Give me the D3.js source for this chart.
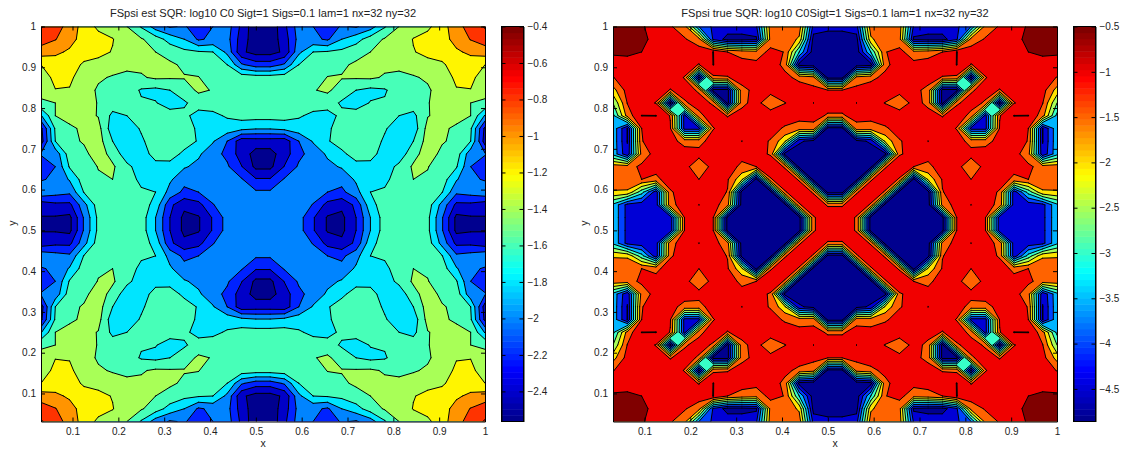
<!DOCTYPE html>
<html>
<head>
<meta charset="utf-8">
<script src="https://d3js.org/d3.v7.min.js"></script>
<style>
    html, body { margin: 0; padding: 0; background: #fff; }
    svg { display: block; }
    text { font-family: "Liberation Sans", Arial, sans-serif; fill: #222; }
    .tick text { font-size: 10px; }
    .tick line, .domain { stroke: #000; }
</style>
</head>
<body>
<svg id="chart" width="1122" height="449"></svg>
<script>
// Both fields are mirror symmetric, so only the top-left quarter is kept (16 x 16, row 0 = y 1, col 0 = x 1/32)
const estQuarter = [
    [-0.58,-0.72,-0.87,-1.09,-1.24,-1.32,-1.40,-1.62,-1.90,-2.02,-1.98,-2.10,-2.00,-1.90,-2.25,-2.55],
    [-0.70,-0.79,-0.93,-1.08,-1.13,-1.19,-1.33,-1.38,-1.50,-1.68,-1.80,-2.03,-1.95,-1.93,-2.30,-2.52],
    [-0.90,-0.96,-1.03,-1.14,-1.15,-1.21,-1.28,-1.35,-1.40,-1.47,-1.55,-1.58,-1.60,-1.85,-2.36,-2.48],
    [-1.20,-1.10,-1.14,-1.22,-1.26,-1.30,-1.36,-1.36,-1.35,-1.37,-1.43,-1.46,-1.52,-1.60,-1.97,-2.10],
    [-1.28,-1.16,-1.17,-1.28,-1.37,-1.42,-1.44,-1.42,-1.37,-1.38,-1.39,-1.395,-1.48,-1.52,-1.48,-1.50],
    [-1.36,-1.205,-1.21,-1.30,-1.43,-1.48,-1.50,-1.62,-1.65,-1.60,-1.48,-1.37,-1.41,-1.46,-1.48,-1.48],
    [-1.42,-1.40,-1.28,-1.32,-1.41,-1.50,-1.53,-1.58,-1.59,-1.68,-1.63,-1.50,-1.52,-1.50,-1.50,-1.48],
    [-1.82,-1.40,-1.32,-1.34,-1.41,-1.65,-1.60,-1.50,-1.48,-1.52,-1.55,-1.68,-1.64,-1.58,-1.52,-1.52],
    [-2.25,-1.57,-1.44,-1.36,-1.33,-1.72,-1.70,-1.58,-1.50,-1.47,-1.52,-1.63,-1.67,-1.68,-1.74,-1.78],
    [-2.30,-1.60,-1.45,-1.38,-1.31,-1.60,-1.72,-1.63,-1.50,-1.48,-1.50,-1.62,-1.78,-2.00,-2.32,-2.30],
    [-1.98,-1.93,-1.49,-1.45,-1.30,-1.47,-1.72,-1.70,-1.52,-1.50,-1.65,-1.77,-1.92,-2.05,-2.30,-2.47],
    [-2.15,-2.00,-1.58,-1.52,-1.39,-1.37,-1.55,-1.70,-1.67,-1.68,-1.78,-1.85,-1.93,-1.97,-2.19,-2.45],
    [-2.02,-1.96,-1.78,-1.50,-1.43,-1.40,-1.50,-1.65,-1.72,-1.77,-1.93,-1.93,-1.90,-1.92,-1.98,-2.18],
    [-1.85,-1.92,-1.96,-1.59,-1.47,-1.45,-1.50,-1.57,-1.60,-1.87,-2.05,-2.00,-1.92,-1.90,-1.93,-1.97],
    [-2.32,-2.25,-2.25,-1.87,-1.50,-1.45,-1.50,-1.50,-1.67,-2.15,-2.35,-2.27,-2.01,-1.90,-1.92,-1.95],
    [-2.41,-2.42,-2.45,-1.98,-1.55,-1.45,-1.48,-1.50,-1.80,-2.20,-2.45,-2.42,-2.18,-1.92,-1.92,-1.93]
];

const trueQuarter = [
    [-0.45,-0.45,-0.45,-0.70,-0.95,-1.30,-3.50,-4.10,-4.20,-4.20,-4.10,-1.20,-1.10,-1.20,-4.20,-4.30],
    [-0.45,-0.47,-0.42,-0.60,-0.75,-0.95,-1.30,-4.10,-4.70,-4.70,-4.60,-1.30,-1.10,-1.60,-4.70,-4.85],
    [-0.45,-0.45,-0.50,-0.70,-0.75,-0.80,-0.75,-0.49,-1.00,-1.20,-1.30,-0.85,-1.02,-3.00,-4.80,-4.85],
    [-0.65,-0.60,-0.65,-0.70,-0.75,-0.80,-1.02,-0.49,-0.80,-0.80,-0.85,-0.80,-1.10,-4.70,-4.85,-4.85],
    [-1.02,-0.75,-0.70,-0.75,-0.80,-1.02,-4.70,-1.10,-1.02,-0.85,-0.80,-0.78,-0.90,-1.10,-1.30,-4.70],
    [-1.70,-0.80,-0.75,-0.80,-1.02,-0.85,-1.05,-4.70,-4.70,-1.10,-0.90,-0.85,-0.80,-0.80,-0.85,-0.98],
    [-2.50,-0.98,-0.80,-1.02,-4.70,-1.05,-0.85,-1.05,-4.70,-1.10,-0.85,-1.30,-1.01,-0.85,-0.498,-0.80],
    [-3.15,-1.30,-0.49,-0.49,-1.03,-4.20,-1.10,-0.80,-1.02,-0.85,-0.80,-0.75,-0.80,-0.85,-0.85,-1.05],
    [-3.15,-4.52,-1.00,-0.80,-0.95,-4.20,-4.20,-1.02,-0.80,-0.75,-0.80,-0.85,-1.05,-1.20,-1.15,-4.70],
    [-3.15,-4.52,-1.02,-0.80,-0.85,-1.15,-1.15,-0.80,-0.75,-0.498,-0.85,-1.03,-1.90,-4.40,-4.70,-4.85],
    [-3.15,-4.40,-1.30,-0.80,-0.75,-0.80,-0.85,-0.75,-0.75,-0.85,-0.90,-1.03,-4.70,-4.85,-4.85,-4.85],
    [-1.20,-1.20,-0.90,-0.85,-0.80,-0.85,-1.30,-0.85,-0.80,-1.10,-1.00,-0.80,-1.03,-4.75,-4.85,-4.85],
    [-1.20,-1.05,-1.00,-1.10,-0.80,-0.80,-1.00,-0.85,-0.95,-1.90,-4.70,-1.03,-0.80,-1.03,-4.75,-4.85],
    [-1.55,-1.60,-2.80,-4.30,-1.05,-0.80,-0.80,-0.80,-1.02,-4.75,-4.80,-4.75,-1.03,-0.80,-1.03,-4.70],
    [-3.10,-4.17,-4.30,-4.30,-1.10,-0.85,-0.498,-0.80,-1.30,-4.80,-4.85,-4.85,-4.75,-1.03,-0.80,-1.03],
    [-3.10,-4.17,-4.30,-4.30,-4.35,-0.98,-0.85,-1.00,-4.70,-4.80,-4.85,-4.85,-4.85,-4.75,-1.03,-0.80]
];

const estLevels = [-2.4, -2.2, -2, -1.8, -1.6, -1.4, -1.2, -1, -0.8, -0.6];
const trueLevels = [-4.5, -4, -3.5, -3, -2.5, -2, -1.5, -1, -0.5];

const estBarTicks = [-2.4, -2.2, -2, -1.8, -1.6, -1.4, -1.2, -1, -0.8, -0.6, -0.4];
const trueBarTicks = [-4.5, -4, -3.5, -3, -2.5, -2, -1.5, -1, -0.5];
const axisTicks = [0.1, 0.2, 0.3, 0.4, 0.5, 0.6, 0.7, 0.8, 0.9, 1];

const estTitle = "FSpsi est SQR: log10 C0 Sigt=1 Sigs=0.1 lam=1 nx=32 ny=32";
const trueTitle = "FSpsi true SQR: log10 C0Sigt=1 Sigs=0.1 lam=1 nx=32 ny=32";

const svg = d3.select("#chart");
const gridSize = 32;

// MATLAB jet with its 64 flat steps
const jetScale = d3.scaleLinear()
    .domain([0, 0.125, 0.375, 0.625, 0.875, 1])
    .range(["#00008f", "#0000ff", "#00ffff", "#ffff00", "#ff0000", "#800000"])
    .interpolate(d3.interpolateRgb);

function jet(t) {
    const step = Math.min(63, Math.max(0, Math.floor(t * 64)));
    return jetScale(step / 63);
}

// Unfold the quarter into the whole 32 x 32 grid
function unfold(quarter) {
    return d3.range(gridSize).map(r => d3.range(gridSize).map(c =>
        quarter[r < 16 ? r : 31 - r][c < 16 ? c : 31 - c]));
}

// Marching squares with straight cell edges; d3.contours rounds them off and
// cannot tell saddle cells apart, and contourf resolves those by the cell centre
function bandCells(grid, level) {
    const polys = [];
    const segs = [];
    for (let r = 0; r < gridSize - 1; r++) {
        for (let c = 0; c < gridSize - 1; c++) {
            const corners = [[c, r], [c + 1, r], [c + 1, r + 1], [c, r + 1]];
            const vals = corners.map(p => grid[p[1]][p[0]]);
            const inside = vals.map(v => v >= level);
            const count = inside.filter(Boolean).length;
            if (count === 0) continue;
            if (count === 4) { polys.push(corners); continue; }

            const cross = (a, b) => {
                const t = (level - vals[a]) / (vals[b] - vals[a]);
                return [corners[a][0] + t * (corners[b][0] - corners[a][0]),
                        corners[a][1] + t * (corners[b][1] - corners[a][1])];
            };
            const saddle = count === 2 && inside[0] === inside[2];
            if (saddle && d3.mean(vals) < level) {
                // high corners stay apart, each gets its own triangle
                [0, 1, 2, 3].filter(i => inside[i]).forEach(i => {
                    const p = cross(i, (i + 3) % 4), q = cross(i, (i + 1) % 4);
                    polys.push([p, corners[i], q]);
                    segs.push([p, q]);
                });
                continue;
            }
            const poly = [];
            const ends = [];
            for (let i = 0; i < 4; i++) {
                const j = (i + 1) % 4;
                if (inside[i]) poly.push(corners[i]);
                if (inside[i] !== inside[j]) {
                    const p = cross(i, j);
                    poly.push(p);
                    ends.push(p);
                }
            }
            polys.push(poly);
            if (ends.length === 2) {
                segs.push(ends);
            } else if (inside[0]) {
                // saddle with joined high corners: the low corners are cut off
                segs.push([ends[0], ends[1]], [ends[2], ends[3]]);
            } else {
                segs.push([ends[1], ends[2]], [ends[3], ends[0]]);
            }
        }
    }
    return { polys, segs };
}

function drawPanel(cfg) {
    const x = d3.scaleLinear().domain([1 / gridSize, 1]).range([cfg.left, cfg.right]);
    const y = d3.scaleLinear().domain([1 / gridSize, 1]).range([cfg.bottom, cfg.top]);
    const tone = d3.scaleLinear().domain(cfg.range).range([0, 1]);
    const px = p => [x((p[0] + 1) / gridSize), y((gridSize - p[1]) / gridSize)];

    const clipId = "clip-" + cfg.left;
    svg.append("clipPath").attr("id", clipId)
        .append("rect")
        .attr("x", cfg.left).attr("y", cfg.top)
        .attr("width", cfg.right - cfg.left).attr("height", cfg.bottom - cfg.top);

    const plot = svg.append("g").attr("clip-path", `url(#${clipId})`);
    plot.append("rect")
        .attr("x", cfg.left).attr("y", cfg.top)
        .attr("width", cfg.right - cfg.left).attr("height", cfg.bottom - cfg.top)
        .attr("fill", jet(0));

    const grid = unfold(cfg.quarter);
    const bands = cfg.levels.map(level => ({ level, ...bandCells(grid, level) }));
    const line = d3.line();

    plot.selectAll("path.band")
        .data(bands)
        .enter()
        .append("path")
        .attr("class", "band")
        .attr("d", d => d.polys.map(poly => line(poly.map(px)) + "Z").join(""))
        .attr("fill", d => jet(tone(d.level)));

    plot.selectAll("path.edge")
        .data(bands)
        .enter()
        .append("path")
        .attr("class", "edge")
        .attr("d", d => d.segs.map(seg => line(seg.map(px))).join(""))
        .attr("fill", "none")
        .attr("stroke", "#000")
        .attr("stroke-width", 1)
        .attr("stroke-linecap", "round");

    // Box axes with inward ticks
    const fmt = d => String(d);
    const tickLen = 4;
    svg.append("g").attr("transform", `translate(0,${cfg.bottom})`)
        .call(d3.axisBottom(x).tickValues(axisTicks).tickFormat(fmt).tickSize(-tickLen).tickSizeOuter(0).tickPadding(6));
    svg.append("g").attr("transform", `translate(0,${cfg.top})`)
        .call(d3.axisTop(x).tickValues(axisTicks).tickFormat("").tickSize(-tickLen).tickSizeOuter(0));
    svg.append("g").attr("transform", `translate(${cfg.left},0)`)
        .call(d3.axisLeft(y).tickValues(axisTicks).tickFormat(fmt).tickSize(-tickLen).tickSizeOuter(0).tickPadding(5));
    svg.append("g").attr("transform", `translate(${cfg.right},0)`)
        .call(d3.axisRight(y).tickValues(axisTicks).tickFormat("").tickSize(-tickLen).tickSizeOuter(0));

    svg.append("text")
        .attr("x", (cfg.left + cfg.right) / 2).attr("y", 17)
        .attr("text-anchor", "middle").attr("font-size", 11.1)
        .text(cfg.title);
    svg.append("text")
        .attr("x", (cfg.left + cfg.right) / 2).attr("y", 447)
        .attr("text-anchor", "middle").attr("font-size", 10.5)
        .text("x");
    svg.append("text")
        .attr("transform", `translate(${cfg.left - 25},${(cfg.top + cfg.bottom) / 2 - 1}) rotate(-90)`)
        .attr("text-anchor", "middle").attr("font-size", 10.5)
        .text("y");

    // Colour bar
    const barY = d3.scaleLinear().domain(cfg.range).range([cfg.bottom, cfg.top]);
    const steps = d3.range(64);
    const stepH = (cfg.bottom - cfg.top) / 64;
    svg.append("g").selectAll("rect")
        .data(steps)
        .enter()
        .append("rect")
        .attr("x", cfg.barLeft)
        .attr("y", d => cfg.bottom - (d + 1) * stepH)
        .attr("width", cfg.barRight - cfg.barLeft)
        .attr("height", stepH + 0.5)
        .attr("fill", d => jet((d + 0.5) / 64));

    const minus = d => String(d).replace("-", "\u2212");
    svg.append("g").attr("transform", `translate(${cfg.barRight},0)`)
        .call(d3.axisRight(barY).tickValues(cfg.barTicks).tickFormat(minus).tickSize(-tickLen).tickSizeOuter(0).tickPadding(4));
    svg.append("g").attr("transform", `translate(${cfg.barLeft},0)`)
        .call(d3.axisLeft(barY).tickValues(cfg.barTicks).tickFormat("").tickSize(-tickLen).tickSizeOuter(0));
    svg.append("rect")
        .attr("x", cfg.barLeft).attr("y", cfg.top)
        .attr("width", cfg.barRight - cfg.barLeft).attr("height", cfg.bottom - cfg.top)
        .attr("fill", "none").attr("stroke", "#000").attr("stroke-width", 1);
}

drawPanel({
    quarter: estQuarter, levels: estLevels, range: [-2.565, -0.4], barTicks: estBarTicks, title: estTitle,
    left: 41, right: 485, top: 26.5, bottom: 421.5, barLeft: 501.5, barRight: 523.5
});
drawPanel({
    quarter: trueQuarter, levels: trueLevels, range: [-4.86, -0.5], barTicks: trueBarTicks, title: trueTitle,
    left: 613, right: 1057, top: 26.5, bottom: 421.5, barLeft: 1073.5, barRight: 1095.5
});
</script>
</body>
</html>
